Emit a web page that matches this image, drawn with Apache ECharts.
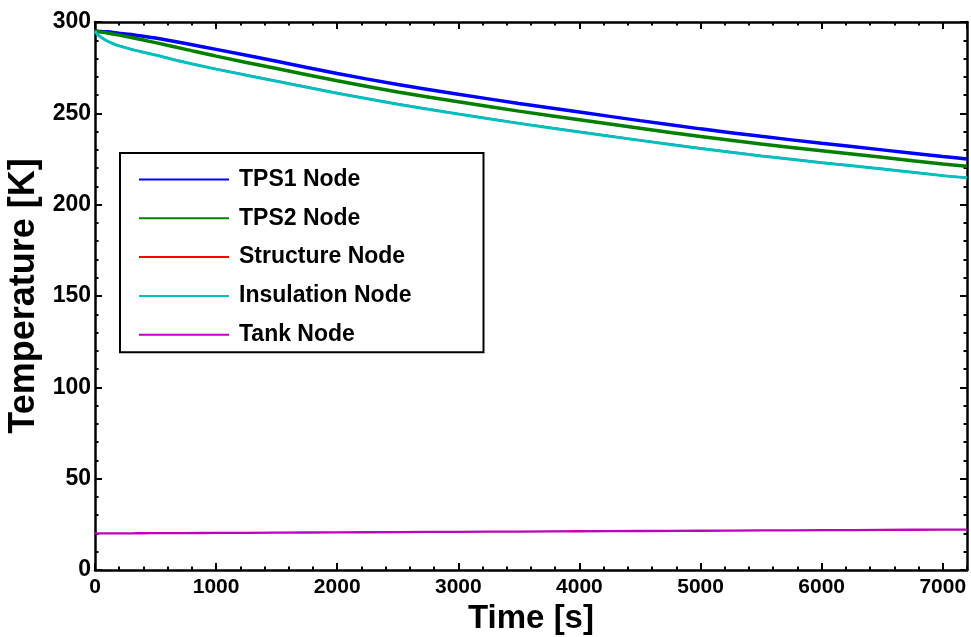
<!DOCTYPE html>
<html>
<head>
<meta charset="utf-8">
<script src="https://cdn.jsdelivr.net/npm/echarts@6/dist/echarts.min.js"></script>
<style>
html,body{margin:0;padding:0;background:#fff;}
#chart{width:971px;height:637px;}
</style>
</head>
<body>
<div id="chart"></div>
<script>
// ---- data ----
var timeS = [0, 20, 50, 100, 150, 200, 300, 400, 500, 750, 1000, 1500, 2000, 2500, 3000, 3500, 4000, 4500, 5000, 5500, 6000, 6500, 7000, 7200];
var tps1Node = [295, 294.95, 294.8, 294.6, 294.3, 293.9, 293.1, 292.2, 291.2, 288.2, 285, 278.5, 271.8, 265.8, 260.5, 255.4, 250.7, 246, 241.5, 237.4, 233.6, 230, 226.4, 225];
var tps2Node = [295, 294.8, 294.5, 294, 293.4, 292.8, 291.5, 290.1, 288.7, 285, 281.3, 274.5, 267.8, 261.7, 256.3, 251.2, 246.5, 241.8, 237.3, 233.2, 229.5, 225.9, 222.3, 221];
var structureNode = [295, 293.3, 291.7, 289.7, 288.2, 287, 285.1, 283.5, 282, 277.9, 274.3, 267.7, 261.1, 255.1, 249.7, 244.6, 239.9, 235.3, 230.9, 226.8, 223.1, 219.6, 216, 214.8];
var insulationNode = [295, 293.2, 291.6, 289.6, 288.1, 286.9, 285, 283.4, 281.9, 277.8, 274.2, 267.6, 261, 255, 249.6, 244.5, 239.8, 235.2, 230.8, 226.7, 223, 219.5, 215.9, 214.7];
var tankNode = [20, 20, 20.02, 20.03, 20.05, 20.06, 20.09, 20.12, 20.15, 20.23, 20.3, 20.45, 20.6, 20.75, 20.9, 21.05, 21.2, 21.35, 21.5, 21.65, 21.8, 21.95, 22.1, 22.15];
var seriesNames = ['TPS1 Node', 'TPS2 Node', 'Structure Node', 'Insulation Node', 'Tank Node'];
var xTitle = 'Time [s]';
var yTitle = 'Temperature [K]';

function pairs(vals) {
  return timeS.map(function (t, i) { return [t, vals[i]]; });
}

var FONT = '"Liberation Sans", Arial, Helvetica, sans-serif';
var chart = echarts.init(document.getElementById('chart'), null, {renderer: 'canvas'});

function mkX(pos, interval, tickLen, main, showLabel) {
  return {
    type: 'value', position: pos, min: 0, max: 7200, interval: interval,
    name: showLabel ? xTitle : '',
    nameLocation: 'middle', nameGap: 22,
    nameTextStyle: {fontFamily: FONT, fontWeight: 'bold', fontSize: 33, color: '#000'},
    axisLine: {show: main, onZero: false, lineStyle: {color: '#000', width: 2.5}},
    axisTick: {show: true, inside: true, length: tickLen, lineStyle: {color: '#000', width: 2}},
    axisLabel: {show: showLabel, showMaxLabel: false, margin: 7, fontFamily: FONT, fontWeight: 'bold', fontSize: 21, color: '#000',
      formatter: function (v) { return String(v); }},
    splitLine: {show: false}
  };
}
function mkY(pos, showLabel) {
  return {
    type: 'value', position: pos, min: 0, max: 300, interval: 50,
    name: showLabel ? yTitle : '',
    nameLocation: 'middle', nameGap: 47,
    nameTextStyle: {fontFamily: FONT, fontWeight: 'bold', fontSize: 36, color: '#000'},
    axisLine: {show: true, onZero: false, lineStyle: {color: '#000', width: 2.5}},
    axisTick: {show: true, inside: true, length: 7, lineStyle: {color: '#000', width: 2}},
    minorTick: {show: true, splitNumber: 5, length: 3.5, lineStyle: {color: '#000', width: 2}},
    axisLabel: {show: showLabel, margin: 4, fontFamily: FONT, fontWeight: 'bold', fontSize: 23, color: '#000'},
    splitLine: {show: false}, minorSplitLine: {show: false}
  };
}

var colors = ['#0000ff', '#007f00', '#ff0000', '#00bfbf', '#bf00bf'];
var widths = [3.5, 3.5, 2, 3, 2.3];
var vals = [tps1Node, tps2Node, structureNode, insulationNode, tankNode];
var series = seriesNames.map(function (n, i) {
  return {
    name: n, type: 'line', xAxisIndex: 0, yAxisIndex: 0,
    data: pairs(vals[i]), showSymbol: false, symbol: 'none', smooth: 0.3,
    color: colors[i],
    lineStyle: {color: colors[i], width: widths[i]},
    z: 2 + i, silent: true, animation: false
  };
});

chart.setOption({
  animation: false,
  backgroundColor: '#fff',
  grid: {left: 95, right: 4, top: 22, bottom: 67, containLabel: false, outerBoundsMode: 'none'},
  xAxis: [
    mkX('bottom', 1000, 7, true, true),
    mkX('top', 1000, 7, true, false),
    mkX('bottom', 200, 3.5, false, false),
    mkX('top', 200, 3.5, false, false)
  ],
  yAxis: [mkY('left', true), mkY('right', false)],
  legend: {
    orient: 'vertical', left: 120, top: 153,
    padding: [15, 72, 6, 18],
    itemGap: 15.8, itemWidth: 90, itemHeight: 14,
    borderColor: '#000', borderWidth: 2, backgroundColor: '#fff',
    itemStyle: {opacity: 0},
    textStyle: {fontFamily: FONT, fontWeight: 'bold', fontSize: 23, color: '#000', lineHeight: 23, padding: [0, 0, 0, 5]},
    data: seriesNames
  },
  series: series
});
</script>
</body>
</html>
